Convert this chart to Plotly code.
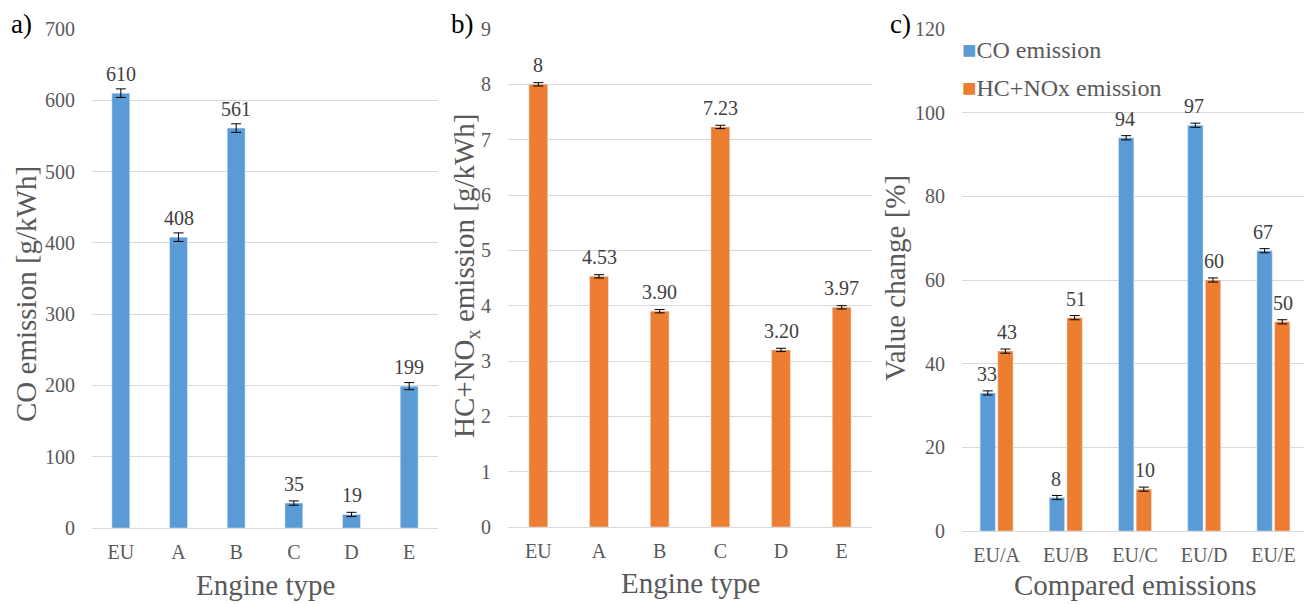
import plotly.graph_objects as go

# ---- data ----
engines = ["EU", "A", "B", "C", "D", "E"]
co_values = [610, 408, 561, 35, 19, 199]
co_err = [6, 6, 6, 3, 3, 5]
hcnox_values = [8.00, 4.53, 3.90, 7.23, 3.20, 3.97]
hcnox_labels = ["8", "4.53", "3.90", "7.23", "3.20", "3.97"]
hcnox_err = [0.03, 0.03, 0.03, 0.03, 0.03, 0.03]
comparisons = ["EU/A", "EU/B", "EU/C", "EU/D", "EU/E"]
co_change = [33, 8, 94, 97, 67]
co_change_err = [0.5, 0.5, 0.5, 0.5, 0.5]
hcnox_change = [43, 51, 10, 60, 50]
hcnox_change_err = [0.5, 0.5, 0.5, 0.5, 0.5]
series_names = ["CO emission", "HC+NOx emission"]

BLUE = "#5B9BD5"
ORANGE = "#ED7D31"
GRID = "#D9D9D9"
TXT = "#595959"
LBL = "#404040"
FONT = "'Liberation Serif', 'Times New Roman', Times, serif"

# page body has an 8px margin; the figure is sized to fill the rest
OFF = 8
W, H = 1312 - OFF, 604 - OFF

def px_x(p):
    return (p - OFF) / W

def px_y(p):
    return 1 - (p - OFF) / H

fig = go.Figure()

err_style = dict(type="data", thickness=1, width=5, color="black")

fig.add_trace(go.Bar(
    x=engines, y=co_values, marker_color=BLUE, width=0.31,
    error_y=dict(array=co_err, **err_style),
    showlegend=False, xaxis="x", yaxis="y"))

fig.add_trace(go.Bar(
    x=engines, y=hcnox_values, marker_color=ORANGE, width=0.31,
    error_y=dict(array=hcnox_err, **err_style),
    showlegend=False, xaxis="x2", yaxis="y2"))

fig.add_trace(go.Bar(
    x=comparisons, y=co_change, marker_color=BLUE, name=series_names[0],
    error_y=dict(array=co_change_err, **err_style),
    showlegend=False, xaxis="x3", yaxis="y3"))

fig.add_trace(go.Bar(
    x=comparisons, y=hcnox_change, marker_color=ORANGE, name=series_names[1],
    error_y=dict(array=hcnox_change_err, **err_style),
    showlegend=False, xaxis="x3", yaxis="y3"))

tick_font = dict(family=FONT, size=20, color=TXT)

def xax(dom, anchor):
    return dict(domain=dom, anchor=anchor, showgrid=False, showline=False,
                ticks="", tickfont=tick_font, ticklabelstandoff=10,
                automargin=False, fixedrange=True)

def yax(dom, anchor, rng, dtick):
    return dict(domain=dom, anchor=anchor, range=rng, dtick=dtick,
                showgrid=True, gridcolor=GRID, gridwidth=1,
                zeroline=True, zerolinecolor=GRID, zerolinewidth=1,
                showline=False, ticks="", tickfont=tick_font,
                ticklabelstandoff=16, automargin=False, fixedrange=True)

fig.update_layout(
    width=W, height=H,
    margin=dict(l=0, r=0, t=0, b=0, pad=0, autoexpand=False),
    paper_bgcolor="white", plot_bgcolor="white",
    barmode="group", bargap=0.49, bargroupgap=0.13,
    font=dict(family=FONT, color=TXT),
    showlegend=False,
    xaxis=xax([px_x(92), px_x(438)], "y"),
    yaxis=yax([px_y(528), px_y(29)], "x", [0, 700], 100),
    xaxis2=xax([px_x(508), px_x(872)], "y2"),
    yaxis2=yax([px_y(527), px_y(29)], "x2", [0, 9], 1),
    xaxis3=xax([px_x(962), px_x(1308)], "y3"),
    yaxis3=yax([px_y(531), px_y(29)], "x3", [0, 120], 20),
)

lbl_font = dict(family=FONT, size=20, color=LBL)

def add_labels(xs, ys, texts, xref, yref, xshift=0):
    for xv, yv, t in zip(xs, ys, texts):
        fig.add_annotation(x=xv, y=yv, text=t, xref=xref, yref=yref,
                           showarrow=False, xanchor="center", yanchor="bottom",
                           yshift=6, xshift=xshift, font=lbl_font)

add_labels(engines, co_values, [str(v) for v in co_values], "x", "y")
add_labels(engines, hcnox_values, hcnox_labels, "x2", "y2")
add_labels(comparisons, co_change, [str(v) for v in co_change], "x3", "y3", xshift=-10)
add_labels(comparisons, hcnox_change, [str(v) for v in hcnox_change], "x3", "y3", xshift=10)

# legend (drawn as text with coloured squares)
leg_font = dict(family=FONT, size=24, color=TXT)
for name, col, yp in [(series_names[0], BLUE, 50), (series_names[1], ORANGE, 88)]:
    fig.add_annotation(text=f"<span style='color:{col}'>■</span>{name}",
                       xref="paper", yref="paper", x=px_x(960), y=px_y(yp),
                       showarrow=False, xanchor="left", yanchor="middle", font=leg_font)

title_font = dict(family=FONT, size=29, color=TXT)
annots = [
    dict(text="Engine type", x=px_x(265), y=px_y(585)),
    dict(text="Engine type", x=px_x(690), y=px_y(583)),
    dict(text="Compared emissions", x=px_x(1135), y=px_y(585)),
    dict(text="CO emission [g/kWh]", x=px_x(26), y=px_y(294), textangle=-90),
    dict(text="HC+NO<sub>x</sub> emission [g/kWh]", x=px_x(466), y=px_y(276), textangle=-90),
    dict(text="Value change [%]", x=px_x(895), y=px_y(278), textangle=-90),
]
for a in annots:
    fig.add_annotation(xref="paper", yref="paper", showarrow=False,
                       xanchor="center", yanchor="middle", font=title_font, **a)

panel_font = dict(family=FONT, size=27, color="black")
for lab, xp in [("a)", 21), ("b)", 462), ("c)", 900)]:
    fig.add_annotation(text=lab, xref="paper", yref="paper", x=px_x(xp), y=px_y(24),
                       showarrow=False, xanchor="center", yanchor="middle", font=panel_font)

fig.write_html("out.html")
